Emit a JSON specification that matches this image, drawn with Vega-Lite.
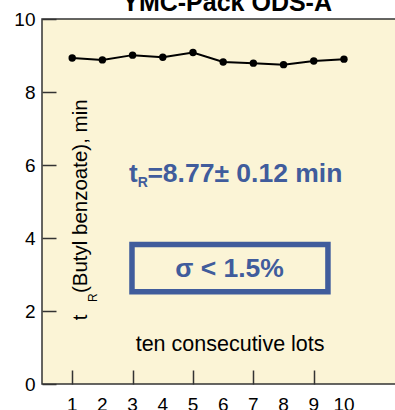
{
  "$schema": "https://vega.github.io/schema/vega-lite/v6.json",
  "width": 356,
  "height": 365,
  "autosize": {"type": "none"},
  "padding": {"left": 42, "top": 19, "right": 0, "bottom": 26},
  "background": "white",
  "config": {
    "view": {"fill": "#FBF4D6", "stroke": "#333333", "strokeWidth": 1.5},
    "font": "Liberation Sans",
    "axis": {"tickSize": -14, "domain": false, "grid": false, "title": null, "labelFontSize": 19, "labelColor": "black", "labelOverlap": false, "labelFlush": false, "labelBound": false, "tickColor": "#333333", "tickWidth": 1.5},
    "axisY": {"labelPadding": 21}
  },
  "datasets": {
    "lots": [
      {"lot": 1, "tR": 8.93},
      {"lot": 2, "tR": 8.88},
      {"lot": 3, "tR": 9.01},
      {"lot": 4, "tR": 8.95},
      {"lot": 5, "tR": 9.08},
      {"lot": 6, "tR": 8.82},
      {"lot": 7, "tR": 8.79},
      {"lot": 8, "tR": 8.75},
      {"lot": 9, "tR": 8.85},
      {"lot": 10, "tR": 8.90}
    ]
  },
  "layer": [
    {
      "data": {"name": "lots"},
      "mark": {"type": "line", "color": "black", "strokeWidth": 2},
      "encoding": {
        "x": {
          "field": "lot", "type": "quantitative",
          "scale": {"domain": [0, 11.79], "nice": false, "zero": false},
          "axis": {"values": [1,2,3,4,5,6,7,8,9,10], "labels": false}
        },
        "y": {
          "field": "tR", "type": "quantitative",
          "scale": {"domain": [0, 10], "nice": false},
          "axis": {"values": [0,2,4,6,8,10]}
        }
      }
    },
    {
      "data": {"name": "lots"},
      "mark": {"type": "point", "filled": true, "color": "black", "size": 55, "opacity": 1},
      "encoding": {
        "x": {"field": "lot", "type": "quantitative"},
        "y": {"field": "tR", "type": "quantitative"}
      }
    },
    {
      "data": {"name": "lots"},
      "mark": {"type": "text", "color": "black", "fontSize": 19, "align": "center", "baseline": "top"},
      "encoding": {
        "x": {"field": "lot", "type": "quantitative"},
        "y": {"datum": -0.33},
        "text": {"field": "lot", "type": "quantitative"}
      }
    },
    {
      "data": {"values": [{"note": "box"}]},
      "mark": {"type": "rect", "fill": null, "fillOpacity": 0, "stroke": "#405C9C", "strokeWidth": 5.5},
      "encoding": {
        "x": {"datum": 2.98}, "x2": {"datum": 9.47},
        "y": {"datum": 3.82}, "y2": {"datum": 2.53}
      }
    },
    {
      "data": {"values": [{"label": "σ < 1.5%"}]},
      "mark": {"type": "text", "color": "#405C9C", "fontSize": 26.5, "fontWeight": "bold", "align": "center", "baseline": "middle"},
      "encoding": {"x": {"datum": 6.21}, "y": {"datum": 3.16}, "text": {"field": "label"}}
    },
    {
      "data": {"values": [{"label": "t"}]},
      "mark": {"type": "text", "color": "#405C9C", "fontSize": 26, "fontWeight": "bold", "align": "left", "baseline": "alphabetic"},
      "encoding": {"x": {"datum": 2.88}, "y": {"datum": 5.53}, "text": {"field": "label"}}
    },
    {
      "data": {"values": [{"label": "R"}]},
      "mark": {"type": "text", "color": "#405C9C", "fontSize": 14, "fontWeight": "bold", "align": "left", "baseline": "alphabetic"},
      "encoding": {"x": {"datum": 3.17}, "y": {"datum": 5.40}, "text": {"field": "label"}}
    },
    {
      "data": {"values": [{"label": "=8.77± 0.12 min"}]},
      "mark": {"type": "text", "color": "#405C9C", "fontSize": 26.5, "fontWeight": "bold", "align": "left", "baseline": "alphabetic"},
      "encoding": {"x": {"datum": 3.49}, "y": {"datum": 5.53}, "text": {"field": "label"}}
    },
    {
      "data": {"values": [{"label": "ten consecutive lots"}]},
      "mark": {"type": "text", "color": "black", "fontSize": 21.5, "align": "center", "baseline": "middle"},
      "encoding": {"x": {"datum": 6.23}, "y": {"datum": 1.07}, "text": {"field": "label"}}
    },
    {
      "data": {"values": [{"label": "(Butyl benzoate), min"}]},
      "mark": {"type": "text", "color": "black", "fontSize": 20.5, "angle": 270, "align": "left", "baseline": "alphabetic"},
      "encoding": {"x": {"datum": 1.49}, "y": {"datum": 2.49}, "text": {"field": "label"}}
    },
    {
      "data": {"values": [{"label": "t"}]},
      "mark": {"type": "text", "color": "black", "fontSize": 20.5, "angle": 270, "align": "left", "baseline": "alphabetic"},
      "encoding": {"x": {"datum": 1.49}, "y": {"datum": 1.75}, "text": {"field": "label"}}
    },
    {
      "data": {"values": [{"label": "R"}]},
      "mark": {"type": "text", "color": "black", "fontSize": 12, "angle": 270, "align": "left", "baseline": "alphabetic"},
      "encoding": {"x": {"datum": 1.82}, "y": {"datum": 2.25}, "text": {"field": "label"}}
    },
    {
      "data": {"values": [{"label": "YMC-Pack ODS-A"}]},
      "mark": {"type": "text", "color": "black", "fontSize": 25, "fontWeight": "bold", "align": "center", "baseline": "alphabetic"},
      "encoding": {"x": {"datum": 6.13}, "y": {"datum": 10.23}, "text": {"field": "label"}}
    }
  ]
}
